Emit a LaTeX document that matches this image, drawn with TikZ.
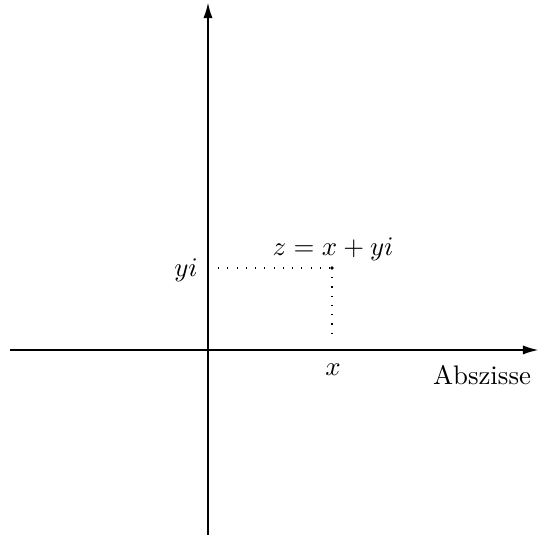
\documentclass[tikz,border=0pt]{standalone}
\usepackage{tikz}
\usetikzlibrary{arrows.meta,positioning}

\begin{document}
\begin{tikzpicture}[
  x=0.0131cm,y=-0.0131cm,
  axis/.style={-{Latex[length=2.1mm,width=1.2mm]},line width=0.85pt},
  helper/.style={line width=0.4pt,dash pattern=on 0.4pt off 3.05pt},
  label/.style={inner sep=1pt}
]
\useasboundingbox (0,0) rectangle (539,537);
\coordinate (west) at (10,350);
\coordinate (east) at (539,350);
\coordinate (south) at (208,535);
\coordinate (north) at (208,2);
\coordinate (z) at (332,268);
\coordinate (yend) at (218,268);
\coordinate (xend) at (332,340);
% axes
\draw[axis] (west) -- (east);
\draw[axis] (south) -- (north);
% projections of z
\draw[helper] (yend) -- (z);
\draw[helper] (z) -- (xend);
\fill (z) circle (0.7pt);
\node[label] (zlabel) at (333,249) {$z = x + yi$};
\node[label] (ylabel) at (186,270) {$yi$};
\node[label] (xlabel) at (333,370) {$x$};
\node[label] (abszisse) at (482,375) {Abszisse};
\end{tikzpicture}
\end{document}
